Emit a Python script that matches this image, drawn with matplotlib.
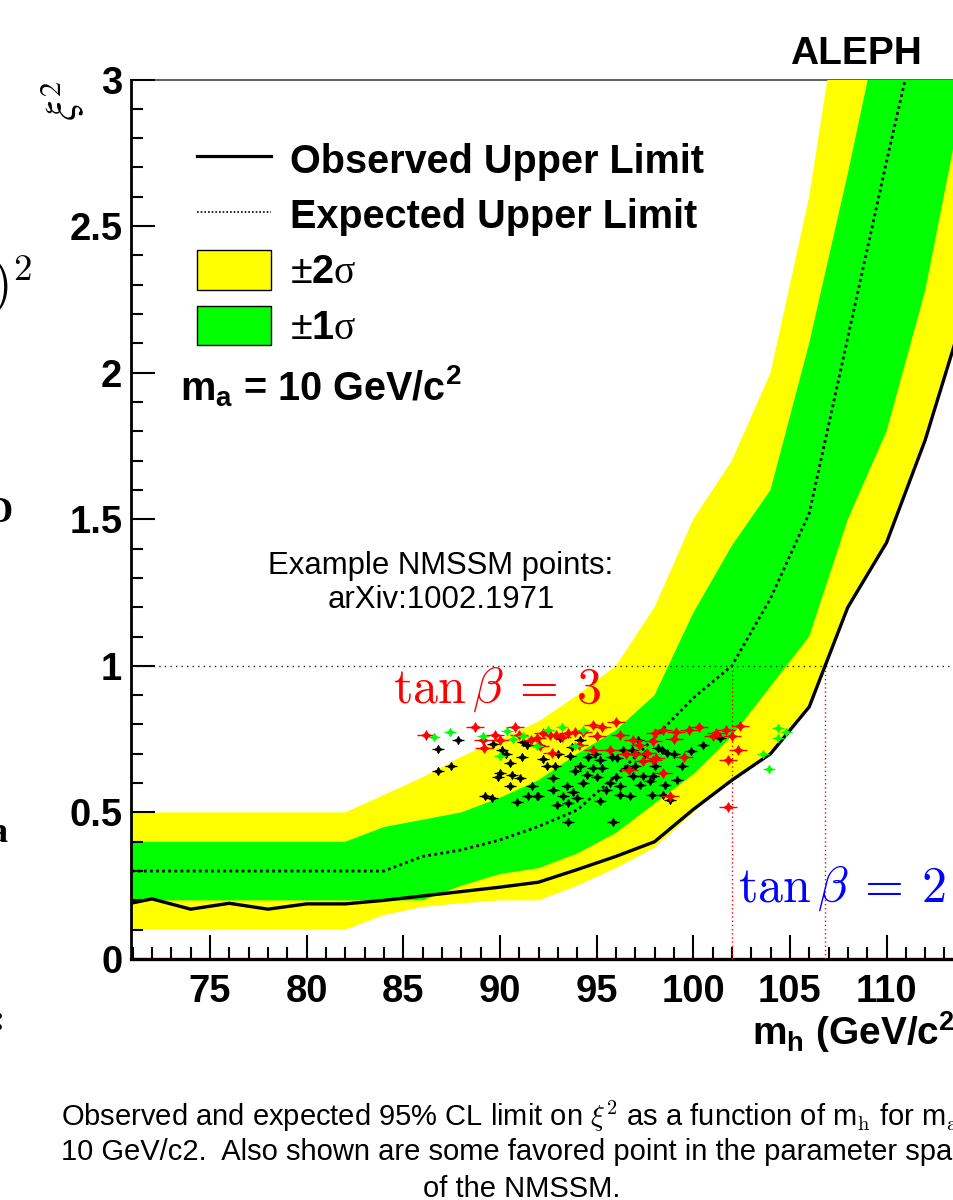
import numpy as np
import matplotlib
matplotlib.use('Agg')
import matplotlib.pyplot as plt
from matplotlib.lines import Line2D
from matplotlib.patches import Patch
from matplotlib.ticker import MultipleLocator, FixedLocator, FuncFormatter

plt.rcParams['font.family'] = ['Liberation Sans', 'DejaVu Sans']
plt.rcParams['mathtext.fontset'] = 'custom'
plt.rcParams['mathtext.rm'] = 'Liberation Sans'
plt.rcParams['mathtext.bf'] = 'Liberation Sans:bold'
plt.rcParams['mathtext.it'] = 'Liberation Sans:italic'
plt.rcParams['mathtext.sf'] = 'Liberation Serif'

# --- data ---
mh = [70, 72, 74, 76, 78, 80, 82, 84, 86, 88, 90, 92, 94, 96, 98, 100,
      102, 104, 106, 108, 110, 112, 114, 116]
observed = [0.178, 0.205, 0.17, 0.19, 0.17, 0.188, 0.188, 0.20, 0.215, 0.23,
            0.245, 0.262, 0.305, 0.35, 0.40, 0.51, 0.61, 0.70, 0.86, 1.20,
            1.42, 1.77, 2.20, 2.70]
expected = [0.30, 0.30, 0.30, 0.30, 0.30, 0.30, 0.30, 0.30, 0.35, 0.372,
            0.406, 0.452, 0.508, 0.625, 0.755, 0.89, 1.00, 1.23, 1.52, 2.12,
            2.72, 3.30, 3.90, 4.50]
sig1_up = [0.40, 0.40, 0.40, 0.40, 0.40, 0.40, 0.40, 0.45, 0.475, 0.50,
           0.55, 0.61, 0.70, 0.78, 0.90, 1.18, 1.41, 1.60, 2.10, 2.68,
           3.30, 3.90, 4.50, 5.00]
sig1_dn = [0.20, 0.20, 0.20, 0.20, 0.20, 0.20, 0.20, 0.20, 0.20, 0.25,
           0.29, 0.31, 0.36, 0.43, 0.53, 0.63, 0.76, 0.93, 1.10, 1.50,
           1.80, 2.28, 2.95, 3.50]
sig2_up = [0.50, 0.50, 0.50, 0.50, 0.50, 0.50, 0.50, 0.56, 0.62, 0.69,
           0.75, 0.81, 0.90, 1.00, 1.20, 1.50, 1.70, 2.00, 2.60, 3.45,
           4.00, 4.60, 5.20, 5.80]
sig2_dn = [0.10, 0.10, 0.10, 0.10, 0.10, 0.10, 0.10, 0.15, 0.178, 0.19,
           0.20, 0.20, 0.25, 0.31, 0.38, 0.50, 0.61, 0.71, 0.87, 1.21,
           1.43, 1.79, 2.22, 2.75]

# NMSSM example points
red_x = [86.2, 88.7, 89.1, 89.75, 89.2, 90.8, 91.0, 90.0, 91.6, 91.9, 92.25,
         92.6, 92.9, 93.5, 93.9, 94.3, 94.8, 95.3, 96.0, 92.7, 92.1, 94.1,
         94.8, 95.7, 96.2, 96.9, 97.2, 97.6, 97.9, 98.45, 99.1, 99.8, 99.5,
         97.9, 97.4, 96.7, 98.45, 98.1, 101.2, 101.7, 102.4, 102.3, 101.8,
         101.8, 98.8, 93.2, 95.0, 96.5, 97.0, 98.0, 99.0, 100.3, 102.0, 101.0]
red_y = [0.765, 0.793, 0.748, 0.765, 0.719, 0.791, 0.765, 0.748, 0.748, 0.754,
         0.771, 0.765, 0.765, 0.771, 0.776, 0.776, 0.799, 0.793, 0.807, 0.702,
         0.725, 0.731, 0.714, 0.714, 0.765, 0.748, 0.731, 0.702, 0.742, 0.782,
         0.776, 0.782, 0.69, 0.68, 0.674, 0.645, 0.634, 0.685, 0.77, 0.782,
         0.796, 0.714, 0.68, 0.52, 0.555, 0.757, 0.76, 0.70, 0.70, 0.77, 0.75,
         0.79, 0.76, 0.76]
green_x = [86.6, 87.4, 89.1, 90.35, 90.7, 90.0, 91.9, 93.2, 93.9, 94.3, 104.4,
           104.4, 103.6, 103.9, 104.8, 91.2, 92.5, 95.5]
green_y = [0.757, 0.776, 0.762, 0.779, 0.75, 0.693, 0.725, 0.791, 0.725, 0.782,
           0.789, 0.754, 0.699, 0.647, 0.776, 0.76, 0.78, 0.74]
black_x = [86.8, 87.85, 86.8, 87.45, 89.66, 90.09, 90.0, 90.52, 91.13, 90.61,
           91.04, 90.52, 89.23, 89.58, 90.87, 91.47, 91.99, 92.25, 92.85, 92.77,
           93.28, 93.46, 93.54, 92.94, 93.54, 93.8, 94.14, 94.32, 94.49, 93.63,
           93.72, 94.83, 95.27, 95.7, 95.87, 96.56, 96.9, 97.42, 97.94, 97.25,
           97.77, 98.54, 99.14, 99.4, 98.45, 97.85, 96.73, 98.8, 98.63, 98.37,
           97.16, 96.82, 96.39, 96.04, 95.18, 94.58, 93.1, 94.14, 91.39, 101.4,
           92.42, 91.64, 92.77, 91.9, 93.0, 93.9, 95.0, 95.5, 96.2, 96.0, 97.0,
           98.0, 99.0, 98.2, 97.5, 95.8, 94.9, 92.0, 91.2, 90.3, 89.9, 94.0,
           95.2, 96.2, 99.9, 100.5]
black_y = [0.717, 0.748, 0.64, 0.659, 0.733, 0.714, 0.634, 0.668, 0.689, 0.628,
           0.617, 0.589, 0.555, 0.549, 0.535, 0.557, 0.557, 0.682, 0.659, 0.617,
           0.555, 0.589, 0.532, 0.526, 0.469, 0.568, 0.657, 0.60, 0.628, 0.691,
           0.723, 0.651, 0.651, 0.60, 0.469, 0.651, 0.625, 0.623, 0.623, 0.594,
           0.606, 0.594, 0.611, 0.657, 0.56, 0.56, 0.555, 0.543, 0.702, 0.714,
           0.748, 0.714, 0.714, 0.685, 0.68, 0.689, 0.754, 0.748, 0.731, 0.753,
           0.657, 0.589, 0.577, 0.555, 0.70, 0.64, 0.62, 0.575, 0.59, 0.62, 0.66,
           0.66, 0.70, 0.72, 0.70, 0.69, 0.70, 0.73, 0.74, 0.70, 0.62, 0.55,
           0.54, 0.56, 0.71, 0.73]

x_ticks = [75, 80, 85, 90, 95, 100, 105, 110]

W, H = 954, 1200
def fx(px):
    return px / W
def fy(py):
    return 1 - py / H

fig = plt.figure(figsize=(W / 100, H / 100), dpi=100)
x0, x1 = 70.9, 114.6
ppg = 19.33  # pixels per GeV in the reference
ax = fig.add_axes([fx(130.7), fy(959), (x1 - x0) * ppg / W, (959 - 79.5) / H])

ax.fill_between(mh, sig2_dn, sig2_up, color='#ffff00', lw=0, zorder=1)
ax.fill_between(mh, sig1_dn, sig1_up, color='#00ff00', lw=0, zorder=1.1)

ax.axhline(1, color='#222222', lw=1, ls=(0, (1, 3)), zorder=3)
mh_a = np.array(mh)
hi = mh_a >= 98
x_exp1 = np.interp(1, np.array(expected)[hi], mh_a[hi])
x_obs1 = np.interp(1, np.array(observed)[hi], mh_a[hi])
ax.vlines([x_exp1, x_obs1], 0, 1, colors='red', lw=1, linestyles=(0, (1, 2)), zorder=3)

ax.plot(mh, expected, color='k', lw=2.0, ls=(0, (1, 1.2)), zorder=4)
ax.plot(mh, observed, color='k', lw=2.4, zorder=4)

ax.plot(black_x, black_y, ls='none', marker=(4, 1, 0), ms=6, color='k', mew=0.6, zorder=5)
ax.plot(black_x, black_y, ls='none', marker='_', ms=8, color='k', mew=0.9, zorder=5)
ax.plot(red_x, red_y, ls='none', marker=(4, 1, 0), ms=7, color='red', mew=0.6, zorder=6)
ax.plot(red_x, red_y, ls='none', marker='_', ms=13, color='red', mew=1.0, zorder=6)
ax.plot(green_x, green_y, ls='none', marker=(4, 1, 0), ms=6, color='#00ff00', mew=0.6, zorder=6)
ax.plot(green_x, green_y, ls='none', marker='_', ms=9, color='#00ff00', mew=0.9, zorder=6)

ax.axhline(0, color='red', lw=0.8, zorder=7)

ax.set_xlim(x0, x1)
ax.set_ylim(0, 3)
ax.xaxis.set_major_locator(FixedLocator(x_ticks))
ax.xaxis.set_minor_locator(MultipleLocator(1))
ax.yaxis.set_major_locator(MultipleLocator(0.5))
ax.yaxis.set_minor_locator(MultipleLocator(0.1))
fmt = FuncFormatter(lambda v, p: f'{v:g}')
ax.xaxis.set_major_formatter(fmt)
ax.yaxis.set_major_formatter(fmt)
ax.tick_params(which='both', direction='in', top=False, right=False, width=1.5)
ax.tick_params(which='major', length=17, labelsize=27.5)
ax.tick_params(which='minor', length=8.6)
ax.tick_params(axis='x', which='major', pad=11)
ax.tick_params(axis='y', which='major', pad=6)
for lab in ax.get_xticklabels() + ax.get_yticklabels():
    lab.set_fontweight('bold')

ax.spines['left'].set_linewidth(2)
ax.spines['bottom'].set_linewidth(2.4)
ax.spines['top'].set_linewidth(1.2)
ax.spines['top'].set_color('#444444')
ax.spines['top'].set_zorder(0.5)
ax.spines['right'].set_visible(False)

handles = [Line2D([], [], color='k', lw=2.3),
           Line2D([], [], color='k', lw=1.2, ls=(0, (1, 1.2))),
           Patch(fc='#ffff00', ec='k', lw=1),
           Patch(fc='#00ff00', ec='k', lw=1)]
labels = ['Observed Upper Limit', 'Expected Upper Limit',
          r'$\pm\mathbf{2}\mathsf{\sigma}$', r'$\pm\mathbf{1}\mathsf{\sigma}$']
fig.legend(handles, labels, loc='upper left', bbox_to_anchor=(fx(177.5), fy(120)),
           bbox_transform=fig.transFigure, frameon=False, borderpad=0,
           handlelength=1.85, handleheight=1.15, handletextpad=0.48,
           labelspacing=0.36, prop={'size': 28.5, 'weight': 'bold'})

fig.text(fx(180), fy(400), r'm$_\mathbf{a}$ = 10 GeV/c$^\mathbf{2}$',
         fontsize=28.5, fontweight='bold', va='baseline')
fig.text(fx(922), fy(64), 'ALEPH', ha='right', va='baseline', fontsize=28, fontweight='bold')
fig.text(fx(62), fy(80), r'$\xi^{2}$', rotation=90, ha='center', va='top',
         fontsize=31, math_fontfamily='stix')
fig.text(fx(752), fy(1045), r'm$_\mathbf{h}$ (GeV/c$^\mathbf{2}$)', fontsize=28,
         fontweight='bold', va='baseline')

fig.text(fx(441), fy(583), 'Example NMSSM points:\narXiv:1002.1971', ha='center',
         va='center', fontsize=22.4, linespacing=1.15)
fig.text(fx(393), fy(703), r'$\tan\beta\:=\:3$', color='red', fontsize=36,
         math_fontfamily='cm', va='baseline')
fig.text(fx(738), fy(902), r'$\tan\beta\:=\:2$', color='blue', fontsize=36,
         math_fontfamily='cm', va='baseline')

# slide fragments at left edge
fig.text(fx(32), fy(300), r'$)^2$', fontsize=38, math_fontfamily='cm', ha='right', va='baseline')
fig.text(fx(12), fy(522), 'D', fontsize=26, family='Liberation Serif', fontweight='bold', ha='right', va='baseline')
fig.text(fx(8), fy(842), 'a', fontsize=26, family='Liberation Serif', fontweight='bold', ha='right', va='baseline')
fig.text(fx(5), fy(1030), ':', fontsize=26, family='Liberation Serif', fontweight='bold', ha='right', va='baseline')

# caption
fig.text(fx(61), fy(1126), r'Observed and expected 95% CL limit on $\xi^2$ as a function of m$_\mathrm{h}$ for m$_\mathrm{a}$ =',
         fontsize=21, math_fontfamily='cm', va='baseline')
fig.text(fx(61), fy(1160), '10 GeV/c2.  Also shown are some favored point in the parameter space',
         fontsize=21, va='baseline')
fig.text(fx(522), fy(1197), 'of the NMSSM.', fontsize=21, ha='center', va='baseline')

fig.savefig('out.png', dpi=100)
